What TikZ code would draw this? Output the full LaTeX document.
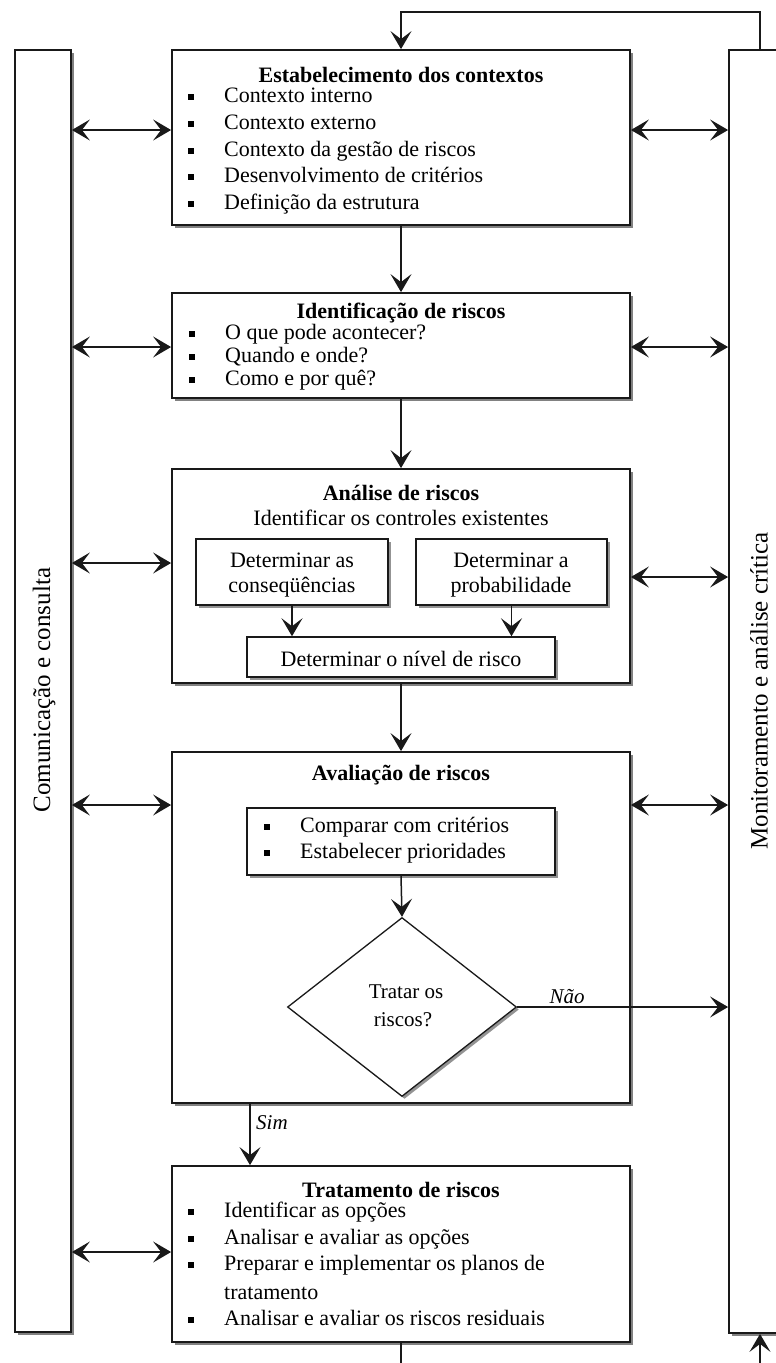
\documentclass[tikz,border=0pt]{standalone}
\usepackage{fontspec}
\setmainfont{Liberation Serif}
\usetikzlibrary{arrows.meta,shapes.geometric,shadows}
\newcommand\bsq{\makebox[36pt][l]{\rule[2.5pt]{5.5pt}{5.5pt}}}
\begin{document}
\begin{tikzpicture}[x=1pt,y=-1pt,
  shd/.style={drop shadow={shadow xshift=3pt,shadow yshift=-3pt,opacity=0.7,fill=black!70}},
  box/.style={draw=black!90,line width=1.8pt,fill=white,inner sep=0pt,shd},
  sbox/.style={draw=black!90,line width=1.5pt,fill=white,inner sep=0pt,
    drop shadow={shadow xshift=2.5pt,shadow yshift=-2.5pt,opacity=0.6,fill=black!70}},
  txt/.style={inner sep=0pt,font=\fontsize{22}{26}\selectfont},
  ttl/.style={inner sep=0pt,font=\fontsize{22}{26}\selectfont\bfseries},
  vlab/.style={inner sep=0pt,font=\fontsize{25}{30}\selectfont,rotate=90},
  lbl/.style={inner sep=0pt,font=\fontsize{21}{24}\selectfont\itshape},
  ln/.style={draw=black!90,line width=1.5pt},
  arr/.style={ln,-{Stealth[length=18pt,width=21pt,inset=8pt]}},
  dbl/.style={ln,{Stealth[length=18pt,width=21pt,inset=8pt]}-{Stealth[length=18pt,width=21pt,inset=8pt]}},
]
\useasboundingbox (0,0) rectangle (776,1363);

% side bars
\node[box,minimum width=56pt,minimum height=1282pt] (lbar) at (43,691) {};
\node[box,minimum width=81pt,minimum height=1283pt] (rbar) at (769.5,691.5) {};
\node[vlab] (lbarlab) at (44,690) {Comunicação e consulta};
\node[vlab] (rbarlab) at (759,691) {Monitoramento e análise crítica};

% box 1
\node[box,minimum width=458pt,minimum height=175pt] (b1) at (401,137.5) {};
\node[ttl] (b1t) at (401,75) {Estabelecimento dos contextos};
\node[txt,anchor=mid west] (b1a) at (188,100) {\bsq Contexto interno};
\node[txt,anchor=mid west] (b1b) at (188,127) {\bsq Contexto externo};
\node[txt,anchor=mid west] (b1c) at (188,154) {\bsq Contexto da gestão de riscos};
\node[txt,anchor=mid west] (b1d) at (188,180) {\bsq Desenvolvimento de critérios};
\node[txt,anchor=mid west] (b1e) at (188,207) {\bsq Definição da estrutura};

% box 2
\node[box,minimum width=458pt,minimum height=105pt] (b2) at (401,345.5) {};
\node[ttl] (b2t) at (401,313) {Identificação de riscos};
\node[txt,anchor=mid west] (b2a) at (189,337) {\bsq O que pode acontecer?};
\node[txt,anchor=mid west] (b2b) at (189,360) {\bsq Quando e onde?};
\node[txt,anchor=mid west] (b2c) at (189,383) {\bsq Como e por quê?};

% box 3
\node[box,minimum width=458pt,minimum height=214pt] (b3) at (401,576) {};
\node[ttl] (b3t) at (401,493) {Análise de riscos};
\node[txt] (b3s) at (401,518) {Identificar os controles existentes};
\node[sbox,minimum width=192pt,minimum height=66pt] (cq) at (292,572) {};
\node[sbox,minimum width=191pt,minimum height=66pt] (pb) at (511.5,572) {};
\node[sbox,minimum width=308pt,minimum height=40pt] (nv) at (401,657) {};
\node[txt] (cq1) at (292,560) {Determinar as};
\node[txt] (cq2) at (292,587) {conseqüências};
\node[txt] (pb1) at (511,560) {Determinar a};
\node[txt] (pb2) at (511,587) {probabilidade};
\node[txt] (nvt) at (401,659) {Determinar o nível de risco};

% box 4
\node[box,minimum width=458pt,minimum height=351pt] (b4) at (401,927.5) {};
\node[ttl] (b4t) at (401,775) {Avaliação de riscos};
\node[sbox,minimum width=308pt,minimum height=67pt] (cp) at (401,841.5) {};
\node[txt,anchor=mid west] (cpa) at (264,830) {\bsq Comparar com critérios};
\node[txt,anchor=mid west] (cpb) at (264,856) {\bsq Estabelecer prioridades};
\node[draw=black!90,line width=1.3pt,fill=white,diamond,inner sep=0pt,
  minimum width=229pt,minimum height=179pt,
  drop shadow={shadow xshift=2.5pt,shadow yshift=-2.5pt,opacity=0.6,fill=black!70}] (dia) at (402,1007) {};
\node[txt,font=\fontsize{21}{24}\selectfont] (dia1) at (406,992) {Tratar os};
\node[txt,font=\fontsize{21}{24}\selectfont] (dia2) at (403,1020) {riscos?};

% box 5
\node[box,minimum width=458pt,minimum height=176pt] (b5) at (401,1254) {};
\node[ttl] (b5t) at (401,1190) {Tratamento de riscos};
\node[txt,anchor=mid west] (b5a) at (188,1215) {\bsq Identificar as opções};
\node[txt,anchor=mid west] (b5b) at (188,1242) {\bsq Analisar e avaliar as opções};
\node[txt,anchor=mid west] (b5c) at (188,1268) {\bsq Preparar e implementar os planos de};
\node[txt,anchor=mid west] (b5d) at (224,1297) {tratamento};
\node[txt,anchor=mid west] (b5e) at (188,1323) {\bsq Analisar e avaliar os riscos residuais};

% helper coordinates
\coordinate (lt) at (760,12);
\coordinate (botL) at (401,1375);
\coordinate (botR) at (760,1375);
\coordinate (simx) at (250,0);
\coordinate (y1) at (0,130);
\coordinate (y2) at (0,347);
\coordinate (y3l) at (0,563);
\coordinate (y3r) at (0,577);
\coordinate (y4) at (0,805);
\coordinate (y5) at (0,1252);

% main flow
\draw[arr] (rbar.north -| lt) -- (lt) -- (b1.north |- lt) -- (b1.north);
\draw[arr] (b1.south) -- (b2.north);
\draw[arr] (b2.south) -- (b3.north);
\draw[arr] (b3.south) -- (b4.north);
\draw[arr] (cq.south) -- (cq.south |- nv.north);
\draw[arr] (pb.south) -- (pb.south |- nv.north);
\draw[arr] (cp.south) -- (dia.north);
\draw[arr] (b4.south -| simx) -- (b5.north -| simx);
\node[lbl,anchor=mid west] (sim) at (256,1127) {Sim};
\draw[arr] (dia.east) -- (rbar.west |- dia.east);
\node[lbl] (nao) at (567,997) {Não};
\draw[ln] (b5.south) -- (botL);
\draw[arr] (botR) -- (rbar.south -| botR);

% side double arrows
\draw[dbl] (lbar.east |- y1) -- (b1.west |- y1);
\draw[dbl] (b1.east |- y1) -- (rbar.west |- y1);
\draw[dbl] (lbar.east |- y2) -- (b2.west |- y2);
\draw[dbl] (b2.east |- y2) -- (rbar.west |- y2);
\draw[dbl] (lbar.east |- y3l) -- (b3.west |- y3l);
\draw[dbl] (b3.east |- y3r) -- (rbar.west |- y3r);
\draw[dbl] (lbar.east |- y4) -- (b4.west |- y4);
\draw[dbl] (b4.east |- y4) -- (rbar.west |- y4);
\draw[dbl] (lbar.east |- y5) -- (b5.west |- y5);
\end{tikzpicture}
\end{document}
